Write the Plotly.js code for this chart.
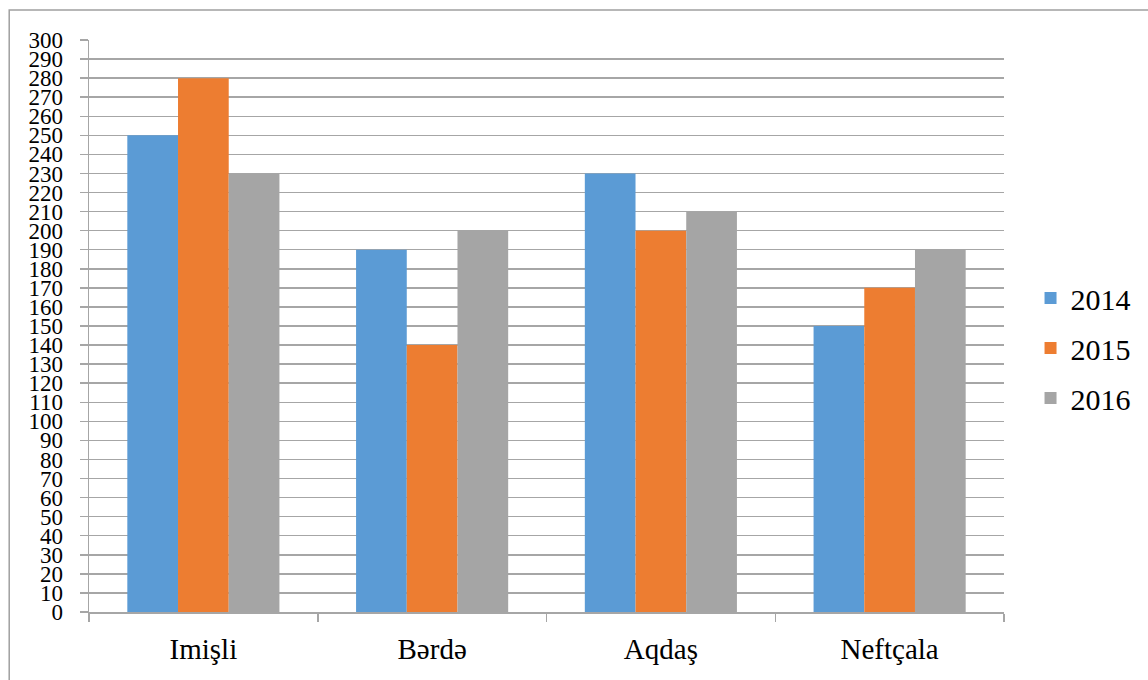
<!DOCTYPE html>
<html>
<head>
<meta charset="utf-8">
<script src="https://cdn.plot.ly/plotly-3.0.1.min.js"></script>
<style>html,body{margin:0;padding:0;background:#fff;}#chart{width:1148px;height:680px;}</style>
</head>
<body>
<div id="chart"></div>
<script>
const categories = ["Imişli", "Bərdə", "Aqdaş", "Neftçala"];
const seriesNames = ["2014", "2015", "2016"];
const values2014 = [250, 190, 230, 150];
const values2015 = [280, 140, 200, 170];
const values2016 = [230, 200, 210, 190];
const colors = ["#5B9BD5", "#ED7D31", "#A5A5A5"];
const yTicks = [];
for (let v = 0; v <= 300; v += 10) yTicks.push(v);

const allValues = [values2014, values2015, values2016];
const traces = allValues.map((vals, i) => ({
  type: "bar",
  name: seriesNames[i],
  x: categories,
  y: vals,
  marker: {color: colors[i], line: {width: 0}},
  legendgroup: "g" + i,
  hoverinfo: "x+y+name"
}));

const gridColor = "#a6a6a6";
const font = "Liberation Serif, Times New Roman, DejaVu Serif, serif";

const layout = {
  width: 1148,
  height: 680,
  margin: {l: 89, r: 142, t: 40, b: 68, pad: 0},
  paper_bgcolor: "#ffffff",
  plot_bgcolor: "#ffffff",
  font: {family: font, color: "#000000"},
  barmode: "group",
  bargap: 0.335,
  bargroupgap: 0,
  showlegend: true,
  legend: {
    x: 1.029, xanchor: "left", y: 0.4615, yanchor: "middle",
    font: {family: font, size: 30, color: "#000"},
    tracegroupgap: 8,
    bgcolor: "rgba(0,0,0,0)"
  },
  xaxis: {
    type: "category",
    tickson: "boundaries",
    ticks: "outside",
    ticklen: 8,
    tickwidth: 1.5,
    tickcolor: gridColor,
    showline: true,
    linecolor: gridColor,
    linewidth: 1.5,
    showgrid: false,
    tickfont: {family: font, size: 29, color: "#000"},
    ticklabelstandoff: 11,
    fixedrange: true
  },
  yaxis: {
    range: [0, 300],
    tickmode: "array",
    tickvals: yTicks,
    ticktext: yTicks.map(String),
    ticks: "outside",
    ticklen: 8,
    tickwidth: 1.5,
    tickcolor: gridColor,
    showline: true,
    linecolor: gridColor,
    linewidth: 1.5,
    showgrid: true,
    gridcolor: gridColor,
    gridwidth: 1.5,
    zeroline: false,
    tickfont: {family: font, size: 23, color: "#000"},
    ticklabelstandoff: 12,
    fixedrange: true
  },
  shapes: [{
    type: "rect", xref: "paper", yref: "paper",
    x0: -0.0872, x1: 1.17, y0: -0.14, y1: 1.0524,
    line: {color: "#a0a0a0", width: 1.5},
    fillcolor: "rgba(0,0,0,0)",
    layer: "below"
  }]
};

Plotly.newPlot("chart", traces, layout, {displayModeBar: false, staticPlot: true});
</script>
</body>
</html>
